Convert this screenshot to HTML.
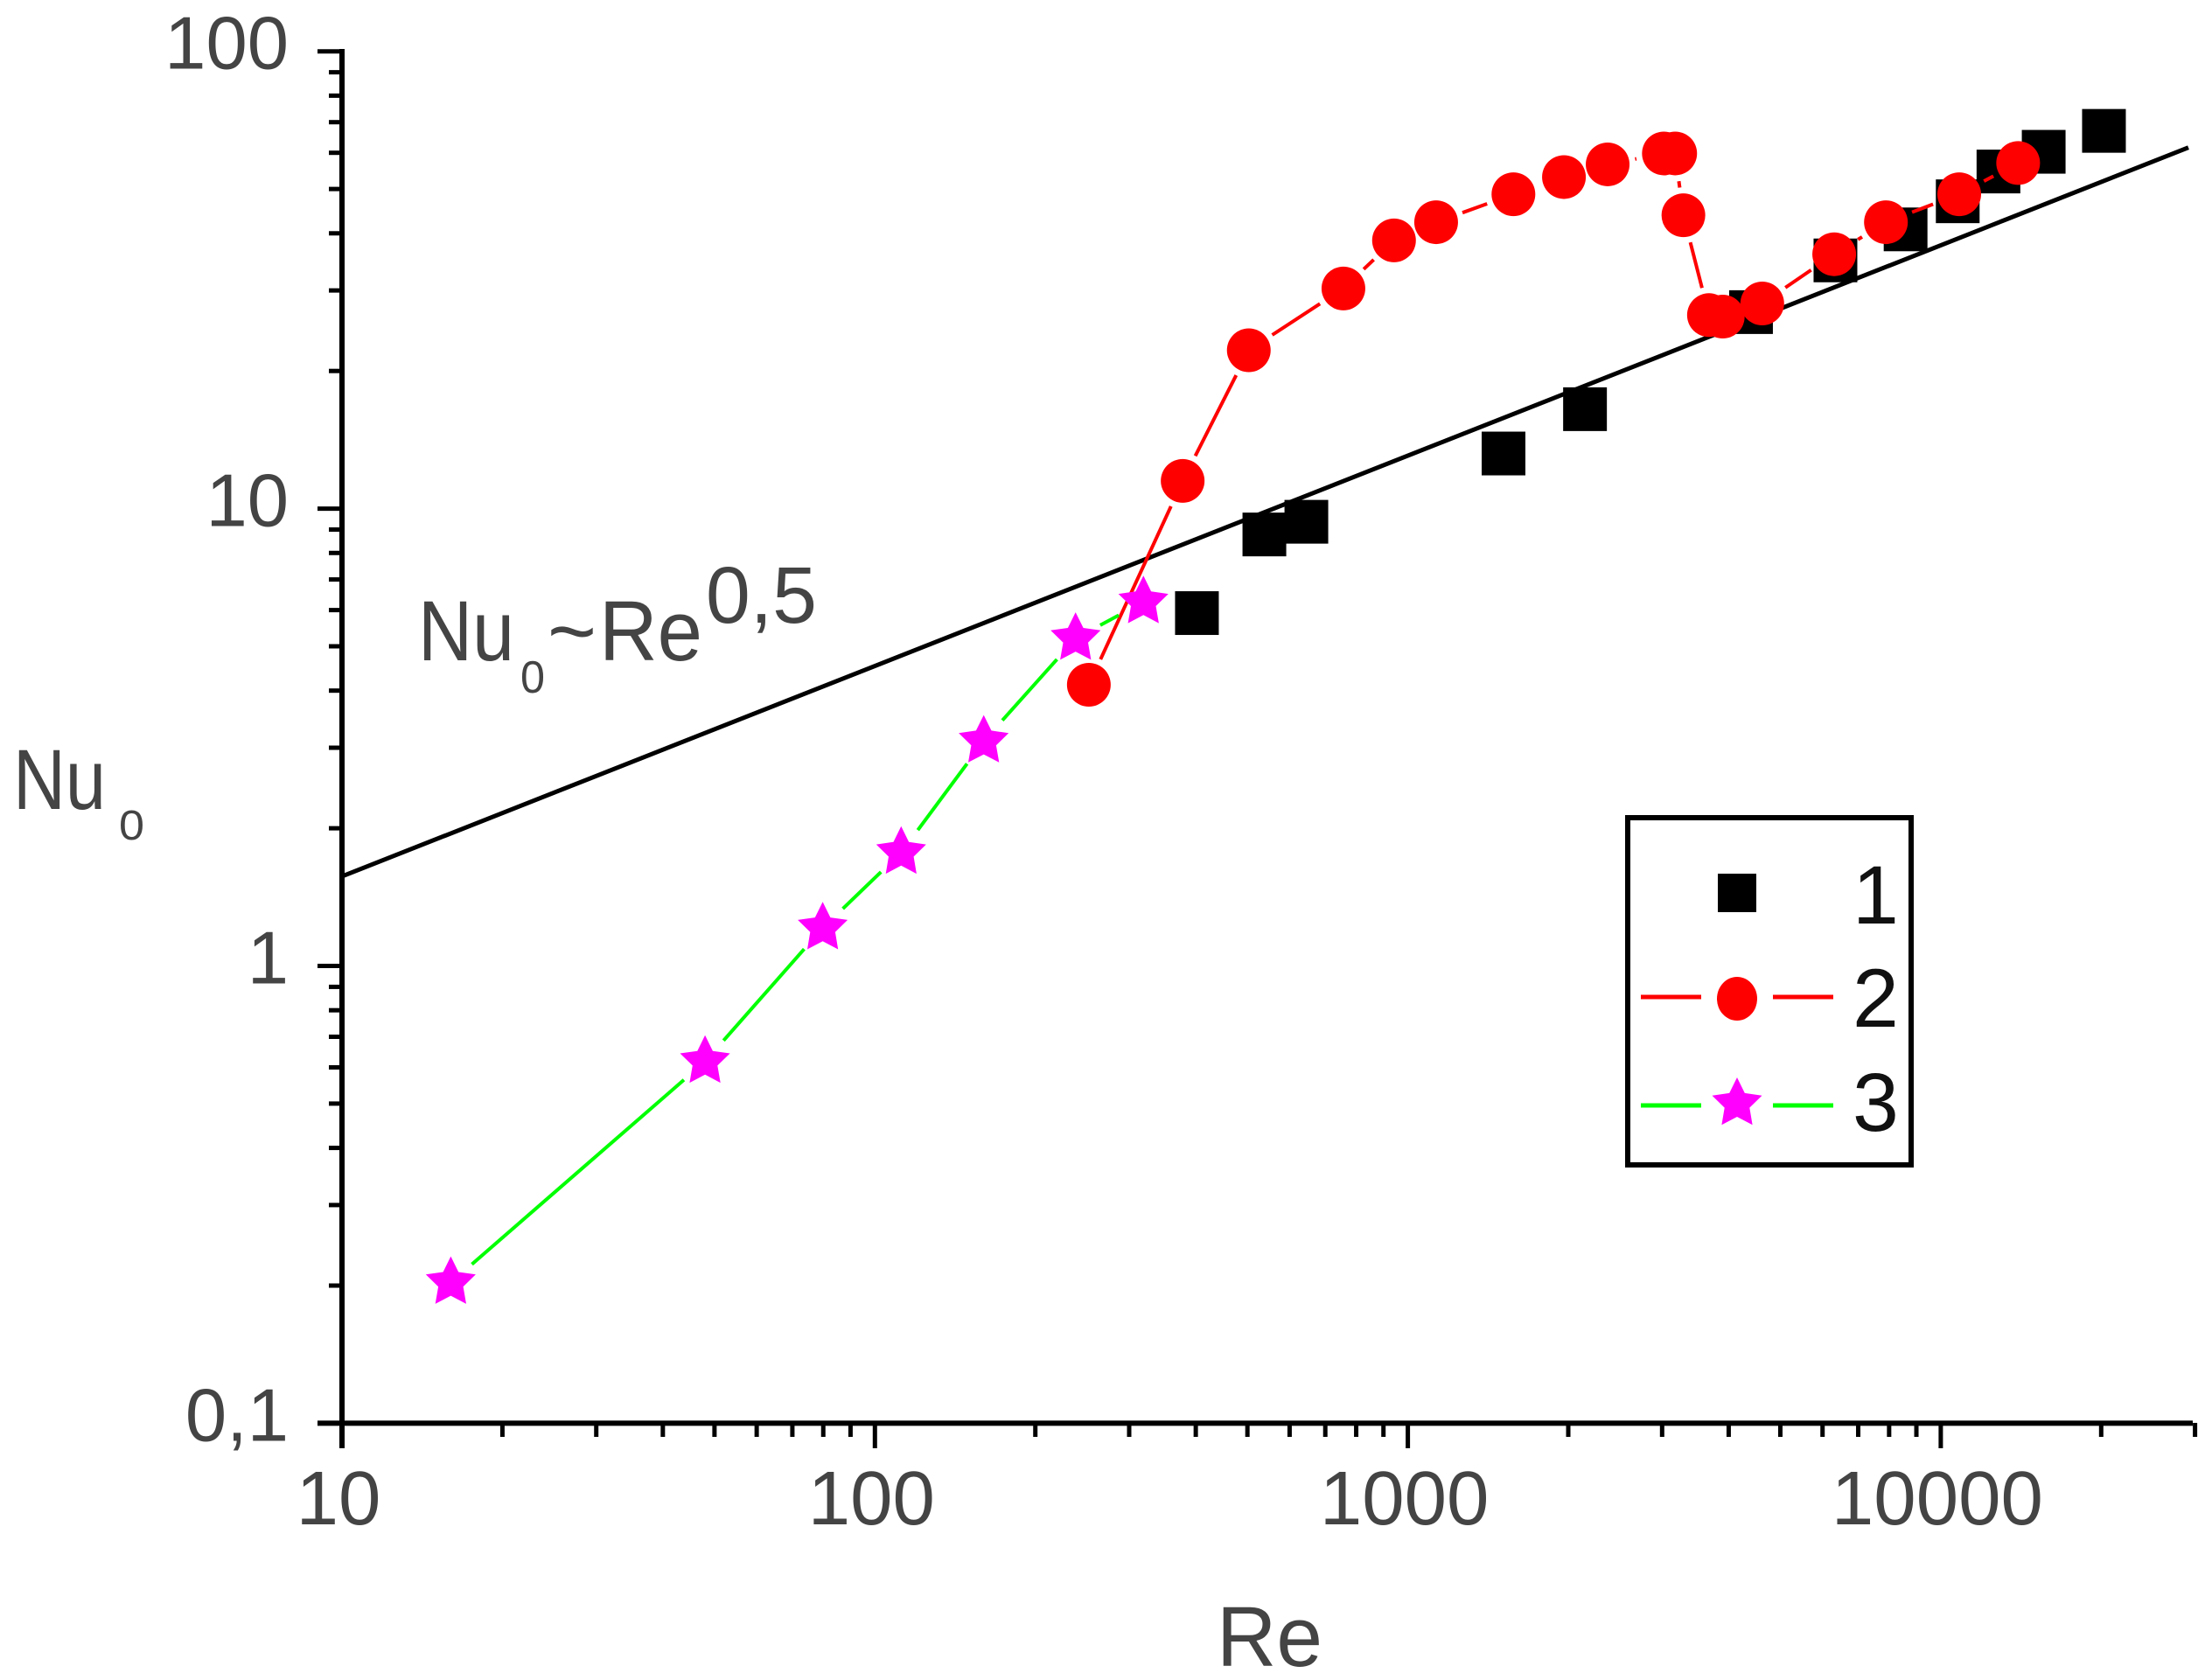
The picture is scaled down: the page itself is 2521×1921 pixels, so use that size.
<!DOCTYPE html>
<html lang="en">
<head>
<meta charset="utf-8">
<title>Nu0 versus Re</title>
<style>
html,body{margin:0;padding:0;background:#fff;width:2521px;height:1921px;overflow:hidden}
svg{display:block;position:absolute;left:0;top:0}
text{font-family:"Liberation Sans",sans-serif;fill:#444}
</style>
</head>
<body>
<svg id="chart" xmlns="http://www.w3.org/2000/svg" width="2521" height="1921" viewBox="0 0 2521 1921">
  <rect x="0" y="0" width="2521" height="1921" fill="#fff"/>
  <g id="plot-layer"></g>
  <g id="axis-layer"></g>

  <text x="1391" y="1905" font-size="97" textLength="121" lengthAdjust="spacingAndGlyphs">Re</text>
  <g>
    <text x="15" y="925" font-size="97" textLength="106" lengthAdjust="spacingAndGlyphs">Nu</text>
    <text x="136" y="960" font-size="48" textLength="29" lengthAdjust="spacingAndGlyphs">0</text>
  </g>
  <g>
    <text x="478" y="755" font-size="97" textLength="110" lengthAdjust="spacingAndGlyphs">Nu</text>
    <text x="595" y="792" font-size="52" textLength="28" lengthAdjust="spacingAndGlyphs">0</text>
    <text x="626" y="755" font-size="97" textLength="56" lengthAdjust="spacingAndGlyphs">~</text>
    <text x="685" y="755" font-size="97" textLength="118" lengthAdjust="spacingAndGlyphs">Re</text>
    <text x="807" y="712" font-size="92" textLength="127" lengthAdjust="spacingAndGlyphs">0,5</text>
  </g>

  <g>
    <rect x="1861" y="935" width="324" height="397" fill="#fff" stroke="#000" stroke-width="6"/>
    <g>
      <rect x="1964" y="999" width="44" height="44" fill="#000"/>
      <text x="2118" y="1056" font-size="95" style="fill:#111">1</text>
    </g>
    <g>
      <line x1="1876" y1="1140" x2="1945" y2="1140" stroke="#f00" stroke-width="5"/>
      <line x1="2027" y1="1140" x2="2096" y2="1140" stroke="#f00" stroke-width="5"/>
      <ellipse cx="1986" cy="1142" rx="23" ry="25" fill="#f00"/>
      <text x="2118" y="1174" font-size="95" style="fill:#111">2</text>
    </g>
    <g>
      <line x1="1876" y1="1264" x2="1945" y2="1264" stroke="#0f0" stroke-width="5"/>
      <line x1="2027" y1="1264" x2="2096" y2="1264" stroke="#0f0" stroke-width="5"/>
      <polygon id="legend-star" fill="#f0f"/>
      <text x="2118" y="1293" font-size="95" style="fill:#111">3</text>
    </g>
  </g>
</svg>
<script>
// Chart data
const series1Re = [402, 538, 645, 1512, 2150, 4405, 6344, 8590, 10760, 12830, 15600, 20240];
const series1Nu = [5.91, 8.78, 9.36, 13.2, 16.5, 26.9, 34.9, 40.8, 47, 54.6, 60.3, 67];
const series2Re = [252, 378, 503, 757, 942, 1130, 1578, 1963, 2371, 3023, 3174, 3289, 3673, 3899, 4624, 6310, 7890, 10830, 13970];
const series2Nu = [4.12, 11.5, 22.2, 30.3, 38.6, 42.3, 48.7, 53.1, 56.6, 59.8, 59.8, 43.8, 26.5, 26.3, 28.1, 36, 42.3, 48.7, 57];
const series3Re = [16, 48, 79.8, 112, 160, 238, 319];
const series3Nu = [0.203, 0.618, 1.21, 1.77, 3.1, 5.2, 6.25];
const fitRe = [10, 29150];
const fitNu = [1.57, 61.6];
const xTickValues = [10, 100, 1000, 10000];
const xTickLabels = ['10', '100', '1000', '10000'];
const yTickValues = [0.1, 1, 10, 100];
const yTickLabels = ['0,1', '1', '10', '100'];
const xMinorTicks = [20,30,40,50,60,70,80,90,200,300,400,500,600,700,800,900,2000,3000,4000,5000,6000,7000,8000,9000,20000,30000];
const yMinorTicks = [0.2,0.3,0.4,0.5,0.6,0.7,0.8,0.9,2,3,4,5,6,7,8,9,20,30,40,50,60,70,80,90];

const SVGNS = 'http://www.w3.org/2000/svg';
const X0 = 391, XDEC = 609.3, Y0 = 58.7, YDEC = 522.9;
function xScale(v){ return X0 + (Math.log10(v) - 1) * XDEC; }
function yScale(v){ return Y0 + (2 - Math.log10(v)) * YDEC; }

function make(tag, parent, attrs){
  const e = document.createElementNS(SVGNS, tag);
  for (const k in attrs) e.setAttribute(k, attrs[k]);
  parent.appendChild(e);
  return e;
}
function starPoints(cx, cy, R, r){
  const pts = [];
  for (let i = 0; i < 10; i++){
    const a = -Math.PI/2 + i*Math.PI/5;
    const rad = i % 2 ? r : R;
    pts.push((cx + rad*Math.cos(a)).toFixed(1) + ',' + (cy + rad*Math.sin(a)).toFixed(1));
  }
  return pts.join(' ');
}
function drawLinks(parent, res, nus, color, name){
  const gap = 32;
  for (let i = 0; i < res.length - 1; i++){
    const x1 = xScale(res[i]), y1 = yScale(nus[i]);
    const x2 = xScale(res[i+1]), y2 = yScale(nus[i+1]);
    const len = Math.hypot(x2-x1, y2-y1);
    if (len <= 2*gap) continue;
    const ux = (x2-x1)/len, uy = (y2-y1)/len;
    const seg = make('line', parent, {x1:x1+ux*gap, y1:y1+uy*gap, x2:x2-ux*gap, y2:y2-uy*gap, stroke:color, 'stroke-width':4});
    
    
  }
}

const plot = document.getElementById('plot-layer');
const axes = document.getElementById('axis-layer');

// Fit line
const fit = make('line', plot, {x1:xScale(fitRe[0]), y1:yScale(fitNu[0]), x2:xScale(fitRe[1]), y2:yScale(fitNu[1]), stroke:'#000', 'stroke-width':5});



// Series 1: squares
const g1 = make('g', plot, {});


series1Re.forEach(function(re, i){
  const s = make('rect', g1, {x:xScale(re)-25, y:yScale(series1Nu[i])-25, width:50, height:50, fill:'#000'});
  
  
});

// Series 2: red circles with connecting line
const g2 = make('g', plot, {});


drawLinks(g2, series2Re, series2Nu, '#f00', 'series-2-line-segment');
series2Re.forEach(function(re, i){
  const c = make('circle', g2, {cx:xScale(re), cy:yScale(series2Nu[i]), r:25, fill:'#f00'});
  
  
});

// Series 3: magenta stars with connecting line
const g3 = make('g', plot, {});


drawLinks(g3, series3Re, series3Nu, '#0f0', 'series-3-line-segment');
series3Re.forEach(function(re, i){
  const p = make('polygon', g3, {points:starPoints(xScale(re), yScale(series3Nu[i]), 30, 15), fill:'#f0f'});
  
  
});

// Axis lines
const yLine = make('line', axes, {x1:X0, y1:56, x2:X0, y2:1656, stroke:'#000', 'stroke-width':6});


const xLine = make('line', axes, {x1:363, y1:Y0+3*YDEC, x2:2507, y2:Y0+3*YDEC, stroke:'#000', 'stroke-width':6});



// Ticks and labels
xTickValues.forEach(function(v, i){
  const x = xScale(v);
  const t = make('line', axes, {x1:x, y1:1627, x2:x, y2:1656, stroke:'#000', 'stroke-width':5});
  
  
  const l = make('text', axes, {x:x-4, y:1743, 'font-size':87, 'text-anchor':'middle'});
  l.textContent = xTickLabels[i];
  
  
});
xMinorTicks.forEach(function(v){
  const x = xScale(v);
  const t = make('line', axes, {x1:x, y1:1627, x2:x, y2:1643, stroke:'#000', 'stroke-width':5});
  
  
});
yTickValues.forEach(function(v, i){
  const y = yScale(v);
  const t = make('line', axes, {x1:363, y1:y, x2:X0, y2:y, stroke:'#000', 'stroke-width':5});
  
  
  const l = make('text', axes, {x:330, y:y+20, 'font-size':85, 'text-anchor':'end'});
  l.textContent = yTickLabels[i];
  
  
});
yMinorTicks.forEach(function(v){
  const y = yScale(v);
  const t = make('line', axes, {x1:376, y1:y, x2:X0, y2:y, stroke:'#000', 'stroke-width':5});
  
  
});

document.getElementById('legend-star').setAttribute('points', starPoints(1986, 1262, 30, 15));
</script>
</body>
</html>
